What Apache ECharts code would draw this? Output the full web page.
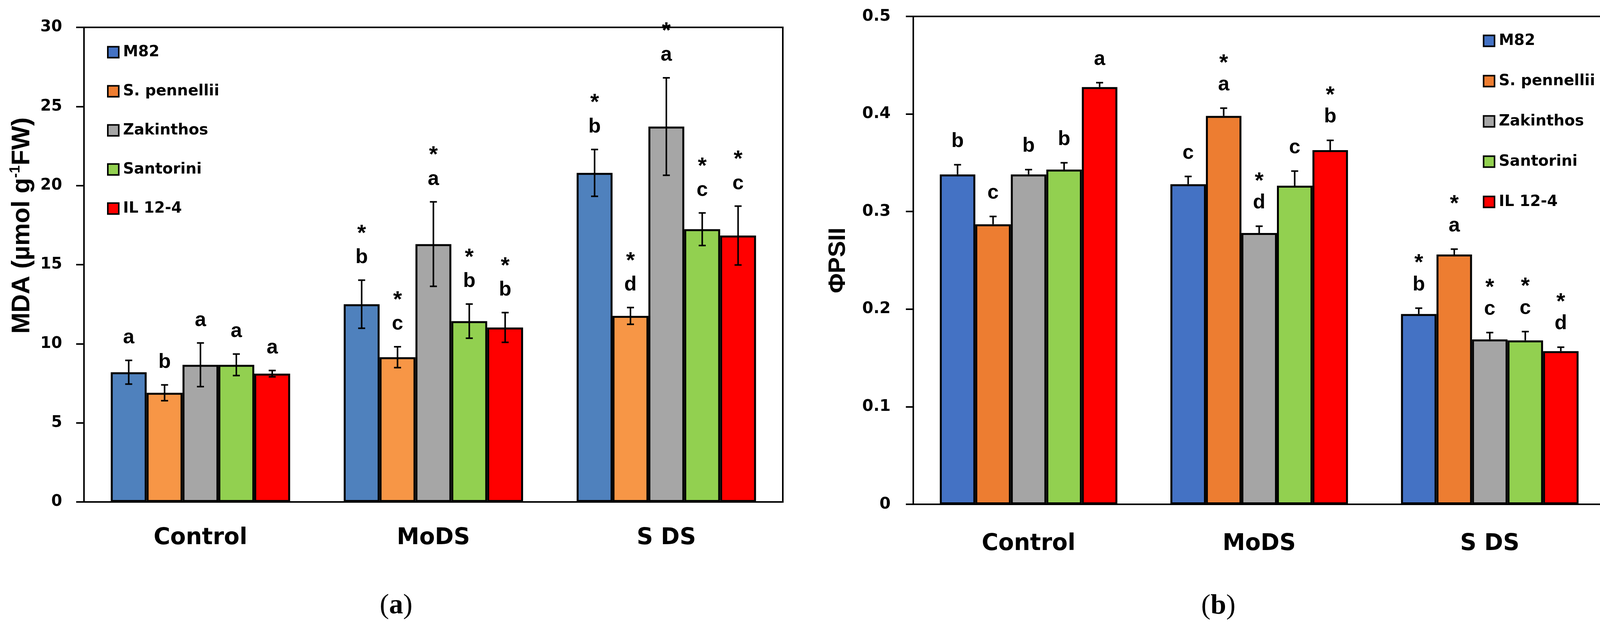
<!DOCTYPE html>
<html>
<head>
<meta charset="utf-8">
<script src="https://cdn.jsdelivr.net/npm/echarts@6/dist/echarts.min.js"></script>
<style>
  html, body { margin: 0; padding: 0; background: #fff; }
  #chart { width: 4135px; height: 1609px; }
</style>
</head>
<body>
<div id="chart"></div>
<script>
var categories = ['Control', 'MoDS', 'S DS'];
var lines = ['M82', 'S. pennellii', 'Zakinthos', 'Santorini', 'IL 12-4'];

// (a) MDA, µmol g-1 FW : mean, error, letters
var mdaM82 = [8.2, 12.5, 20.8];
var mdaSpen = [6.9, 9.15, 11.76];
var mdaZak = [8.67, 16.3, 23.73];
var mdaSant = [8.67, 11.43, 17.24];
var mdaIL = [8.11, 11.03, 16.84];
var mdaM82Err = [0.75, 1.52, 1.48];
var mdaSpenErr = [0.5, 0.66, 0.53];
var mdaZakErr = [1.38, 2.67, 3.08];
var mdaSantErr = [0.68, 1.08, 1.03];
var mdaILErr = [0.2, 0.94, 1.86];
var mdaM82Sig = ['a', '*b', '*b'];
var mdaSpenSig = ['b', '*c', '*d'];
var mdaZakSig = ['a', '*a', '*a'];
var mdaSantSig = ['a', '*b', '*c'];
var mdaILSig = ['a', '*b', '*c'];

// (b) PhiPSII
var psiM82 = [0.338, 0.328, 0.195];
var psiSpen = [0.287, 0.398, 0.256];
var psiZak = [0.338, 0.278, 0.169];
var psiSant = [0.343, 0.3265, 0.168];
var psiIL = [0.4276, 0.363, 0.157];
var psiM82Err = [0.01, 0.008, 0.006];
var psiSpenErr = [0.008, 0.008, 0.0055];
var psiZakErr = [0.005, 0.007, 0.007];
var psiSantErr = [0.007, 0.015, 0.009];
var psiILErr = [0.0045, 0.01, 0.004];
var psiM82Sig = ['b', 'c', '*b'];
var psiSpenSig = ['c', '*a', '*a'];
var psiZakSig = ['b', '*d', '*c'];
var psiSantSig = ['b', 'c', '*c'];
var psiILSig = ['a', '*b', '*d'];

var colorsA = ['#4F81BD', '#F79646', '#A6A6A6', '#92D050', '#FF0000'];
var colorsB = ['#4472C4', '#ED7D31', '#A5A5A5', '#92D050', '#FF0000'];
var legendColors = ['#4472C4', '#ED7D31', '#A5A5A5', '#92D050', '#FF0000'];

var mdaMeans = [mdaM82, mdaSpen, mdaZak, mdaSant, mdaIL];
var mdaErrs = [mdaM82Err, mdaSpenErr, mdaZakErr, mdaSantErr, mdaILErr];
var mdaSigs = [mdaM82Sig, mdaSpenSig, mdaZakSig, mdaSantSig, mdaILSig];
var psiMeans = [psiM82, psiSpen, psiZak, psiSant, psiIL];
var psiErrs = [psiM82Err, psiSpenErr, psiZakErr, psiSantErr, psiILErr];
var psiSigs = [psiM82Sig, psiSpenSig, psiZakSig, psiSantSig, psiILSig];

var GAP = 0.23;
var tickFont = { fontFamily: 'DejaVu Sans', fontWeight: 'bold', color: '#000' };
var sigFont = 'bold 52px "Liberation Sans"';
var starFont = 'bold 58px "Liberation Sans"';

// error bar + letters drawn on top of bar k
function errRender(k, both, sigs, letterOff, starOff) {
    return function (params, api) {
        var i = api.value(0), m = api.value(1), e = api.value(2);
        var band = api.size([1, 0])[0];
        var bw = band * (1 - GAP) / 5;
        var x = api.coord([i, 0])[0] + (k - 2) * bw;
        var yTop = api.coord([i, m + e])[1];
        var yBot = api.coord([i, both ? m - e : m])[1];
        var cap = 9;
        var st = { stroke: '#000', lineWidth: 4 };
        var kids = [
            { type: 'line', shape: { x1: x, y1: yTop, x2: x, y2: yBot }, style: st },
            { type: 'line', shape: { x1: x - cap, y1: yTop, x2: x + cap, y2: yTop }, style: st }
        ];
        if (both) {
            kids.push({ type: 'line', shape: { x1: x - cap, y1: yBot, x2: x + cap, y2: yBot }, style: st });
        }
        var sig = sigs[params.dataIndex];
        var yL = yTop - letterOff;
        kids.push({ type: 'text', style: { text: sig.replace('*', ''), x: x, y: yL, align: 'center', verticalAlign: 'middle', font: sigFont, fill: '#000' } });
        if (sig.charAt(0) === '*') {
            kids.push({ type: 'text', style: { text: '*', x: x, y: yL - starOff + 12, align: 'center', verticalAlign: 'middle', font: starFont, fill: '#000' } });
        }
        return { type: 'group', children: kids };
    };
}

var series = [];
function addSet(means, errs, sigs, colors, gi, both, letterOff, starOff) {
    for (var k = 0; k < 5; k++) {
        series.push({
            type: 'bar', name: lines[k], xAxisIndex: gi, yAxisIndex: gi,
            data: means[k], barGap: '0%', barCategoryGap: (GAP * 100) + '%',
            itemStyle: { color: colors[k], borderColor: '#000', borderWidth: 5 },
            z: 2
        });
    }
    for (var k2 = 0; k2 < 5; k2++) {
        var d = [];
        for (var i = 0; i < categories.length; i++) d.push([i, means[k2][i], errs[k2][i]]);
        series.push({
            type: 'custom', xAxisIndex: gi, yAxisIndex: gi, data: d,
            encode: { x: 0, y: 1 }, z: 5, silent: true,
            renderItem: errRender(k2, both, sigs[k2], letterOff, starOff)
        });
    }
}
addSet(mdaMeans, mdaErrs, mdaSigs, colorsA, 0, true, 58, 72);
addSet(psiMeans, psiErrs, psiSigs, colorsB, 1, false, 60, 66);

function legendFor(left, top, gap) {
    return {
        orient: 'vertical', left: left, top: top, itemWidth: 28, itemHeight: 28, itemGap: gap,
        icon: 'rect', selectedMode: false,
        textStyle: { fontFamily: 'DejaVu Sans', fontWeight: 'bold', fontSize: 39, color: '#000', lineHeight: 28, padding: [0, 0, 0, 6] },
        data: lines.map(function (n, i) {
            return { name: n, itemStyle: { color: legendColors[i], borderColor: '#000', borderWidth: 4 } };
        })
    };
}

function xAxisFor(gi, margin) {
    return {
        type: 'category', gridIndex: gi, data: categories,
        axisLine: { lineStyle: { color: '#000', width: 4 } },
        axisTick: { show: false },
        axisLabel: Object.assign({ fontSize: 58, margin: margin }, tickFont)
    };
}

var chart = echarts.init(document.getElementById('chart'));
chart.setOption({
    backgroundColor: '#fff',
    animation: false,
    legend: [legendFor(269, 109, 61), legendFor(3791, 80, 64)],
    grid: [
        { left: 215, top: 70, width: 1789, height: 1214, show: true, borderColor: '#000', borderWidth: 4 },
        { left: 2338, top: 42, width: 1771, height: 1248, show: true, borderColor: '#000', borderWidth: 4 }
    ],
    xAxis: [xAxisFor(0, 64), xAxisFor(1, 73)],
    yAxis: [{
        type: 'value', gridIndex: 0, min: 0, max: 30, interval: 5,
        splitLine: { show: false },
        axisLine: { show: true, lineStyle: { color: '#000', width: 4 } },
        axisTick: { show: true, length: 20, lineStyle: { color: '#000', width: 4 } },
        axisLabel: Object.assign({ fontSize: 40, margin: 56 }, tickFont),
        name: '{t|MDA (µmol g}{s|-1}{t|FW)}',
        nameLocation: 'middle', nameRotate: 90, nameGap: 123,
        nameTextStyle: {
            padding: [0, 0, 0, 200],
            rich: {
                t: { fontFamily: 'Liberation Sans', fontWeight: 'bold', fontSize: 65, lineHeight: 70, color: '#000', verticalAlign: 'middle' },
                s: { fontFamily: 'Liberation Sans', fontWeight: 'bold', fontSize: 36, lineHeight: 36, color: '#000', verticalAlign: 'top' }
            }
        }
    }, {
        type: 'value', gridIndex: 1, min: 0, max: 0.5, interval: 0.1,
        splitLine: { show: false },
        axisLine: { show: true, lineStyle: { color: '#000', width: 4 } },
        axisTick: { show: true, length: 19, lineStyle: { color: '#000', width: 4 } },
        axisLabel: Object.assign({ fontSize: 41, margin: 58 }, tickFont),
        name: 'ΦPSII',
        nameLocation: 'middle', nameRotate: 90, nameGap: 161,
        nameTextStyle: { fontFamily: 'Liberation Sans', fontWeight: 'bold', fontSize: 62, color: '#000' }
    }],
    graphic: [
        { type: 'text', x: 1014, y: 1550, style: { text: '{p|(}{b|a}{p|)}', align: 'center', verticalAlign: 'middle',
            rich: { p: { font: '72px "Liberation Serif"', fill: '#000' }, b: { font: 'bold 72px "Liberation Serif"', fill: '#000' } } } },
        { type: 'text', x: 3119, y: 1551, style: { text: '{p|(}{b|b}{p|)}', align: 'center', verticalAlign: 'middle',
            rich: { p: { font: '72px "Liberation Serif"', fill: '#000' }, b: { font: 'bold 72px "Liberation Serif"', fill: '#000' } } } }
    ],
    series: series
});
</script>
</body>
</html>
